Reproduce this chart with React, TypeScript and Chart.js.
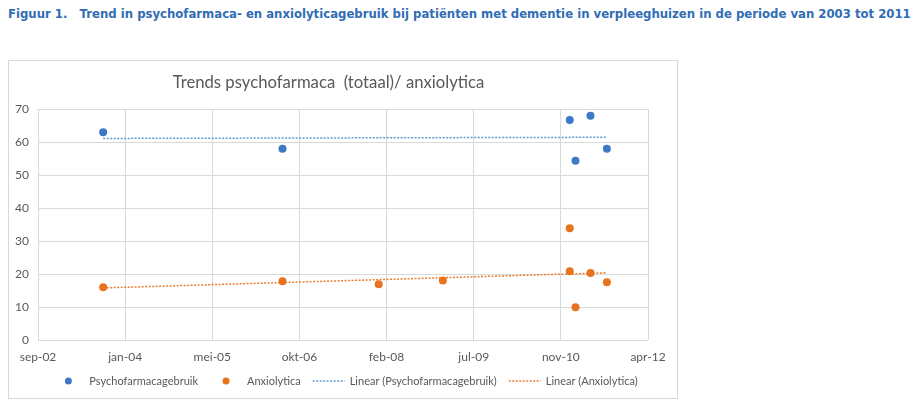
import React, { useEffect, useRef } from "react";
import { Chart, registerables } from "chart.js";

Chart.register(...registerables);

// Excel-style date serials for the x axis ticks (sep-02 ... apr-12, step 500 days)
const xTickValues = [37500, 38000, 38500, 39000, 39500, 40000, 40500, 41000];
const xTickLabels = ["sep-02", "jan-04", "mei-05", "okt-06", "feb-08", "jul-09", "nov-10", "apr-12"];
const yTickValues = [0, 10, 20, 30, 40, 50, 60, 70];

const psychoDates = [37874, 38903, 40551, 40584, 40670, 40764];
const psychoValues = [63, 58, 66.7, 54.3, 68, 58];

const anxioDates = [37874, 38903, 39455, 39823, 40551, 40551, 40584, 40670, 40764];
const anxioValues = [16, 17.8, 16.9, 18, 20.8, 33.9, 9.9, 20.3, 17.5];

const seriesLabels = [
  "Psychofarmacagebruik",
  "Anxiolytica",
  "Linear (Psychofarmacagebruik)",
  "Linear (Anxiolytica)",
];

const BLUE = "#3E79C5";
const ORANGE = "#E8731E";
const BLUE_TREND = "#5B9BD5";
const ORANGE_TREND = "#ED7D31";
const GREY_TEXT = "#595959";
const GRID = "#d9d9d9";
const FONT = 'Lato, "Liberation Sans", sans-serif';

function linearFit(xs: number[], ys: number[]) {
  const n = xs.length;
  const mx = xs.reduce((a, b) => a + b, 0) / n;
  const my = ys.reduce((a, b) => a + b, 0) / n;
  let sxy = 0;
  let sxx = 0;
  for (let i = 0; i < n; i++) {
    sxy += (xs[i] - mx) * (ys[i] - my);
    sxx += (xs[i] - mx) * (xs[i] - mx);
  }
  const b = sxy / sxx;
  const a = my - b * mx;
  const x0 = Math.min(...xs);
  const x1 = Math.max(...xs);
  return [
    { x: x0, y: a + b * x0 },
    { x: x1, y: a + b * x1 },
  ];
}

const legendPlugin = {
  id: "excelLegend",
  afterDraw(chart: any) {
    const ctx = chart.ctx as CanvasRenderingContext2D;
    const items = chart.data.datasets.map((ds: any) => ({
      label: ds.label as string,
      color: ds.showLine ? ds.borderColor : ds.backgroundColor,
      kind: ds.showLine ? "line" : "dot",
    }));
    ctx.save();
    ctx.font = `11px ${FONT}`;
    const sym = 32;
    const tg = 5;
    const ig = 12;
    const widths = items.map((it: any) => sym + tg + ctx.measureText(it.label).width);
    const total = widths.reduce((a: number, b: number) => a + b, 0) + ig * (items.length - 1);
    let x = chart.width / 2 - total / 2 + 2;
    const y = 320;
    items.forEach((it: any, i: number) => {
      if (it.kind === "dot") {
        ctx.beginPath();
        ctx.arc(x + sym / 2, y, 3.5, 0, Math.PI * 2);
        ctx.fillStyle = it.color;
        ctx.fill();
      } else {
        ctx.beginPath();
        ctx.setLineDash([2, 1.5]);
        ctx.lineWidth = 1.5;
        ctx.strokeStyle = it.color;
        ctx.moveTo(x, y);
        ctx.lineTo(x + sym, y);
        ctx.stroke();
        ctx.setLineDash([]);
      }
      ctx.fillStyle = GREY_TEXT;
      ctx.textBaseline = "middle";
      ctx.textAlign = "left";
      ctx.fillText(it.label, x + sym + tg, y + 0.5);
      x += widths[i] + ig;
    });
    ctx.restore();
  },
};

export default function App() {
  const canvasRef = useRef<HTMLCanvasElement | null>(null);

  useEffect(() => {
    if (!canvasRef.current) return;
    const psychoPoints = psychoDates.map((d, i) => ({ x: d, y: psychoValues[i] }));
    const anxioPoints = anxioDates.map((d, i) => ({ x: d, y: anxioValues[i] }));
    const chart = new Chart(canvasRef.current, {
      type: "scatter",
      data: {
        datasets: [
          {
            label: seriesLabels[0],
            data: psychoPoints,
            backgroundColor: BLUE,
            borderColor: BLUE,
            borderWidth: 0,
            pointRadius: 4,
            order: 1,
          },
          {
            label: seriesLabels[1],
            data: anxioPoints,
            backgroundColor: ORANGE,
            borderColor: ORANGE,
            borderWidth: 0,
            pointRadius: 4,
            order: 1,
          },
          {
            label: seriesLabels[2],
            data: linearFit(psychoDates, psychoValues),
            showLine: true,
            borderColor: BLUE_TREND,
            backgroundColor: BLUE_TREND,
            borderWidth: 1.5,
            borderDash: [2, 1.5],
            pointRadius: 0,
            order: 2,
          },
          {
            label: seriesLabels[3],
            data: linearFit(anxioDates, anxioValues),
            showLine: true,
            borderColor: ORANGE_TREND,
            backgroundColor: ORANGE_TREND,
            borderWidth: 1.5,
            borderDash: [2, 1.5],
            pointRadius: 0,
            order: 2,
          },
        ],
      },
      options: {
        animation: false,
        responsive: false,
        devicePixelRatio: 1,
        layout: { padding: { left: 0, right: 29, top: 0, bottom: 34 } },
        plugins: {
          legend: { display: false },
          tooltip: { enabled: false },
          title: {
            display: true,
            text: "Trends psychofarmaca  (totaal)/ anxiolytica",
            color: GREY_TEXT,
            font: { family: FONT, size: 16.7, weight: "normal", lineHeight: 1.2 },
            padding: { top: 11.6, bottom: 16.4 },
          },
        },
        scales: {
          x: {
            type: "linear",
            min: xTickValues[0],
            max: xTickValues[xTickValues.length - 1],
            afterBuildTicks: (scale: any) => {
              scale.ticks = xTickValues.map((v) => ({ value: v }));
            },
            afterFit: (scale: any) => {
              scale.height = 24;
            },
            ticks: {
              autoSkip: false,
              maxRotation: 0,
              padding: 10,
              color: GREY_TEXT,
              font: { family: FONT, size: 12 },
              callback: (v: any) => {
                const idx = xTickValues.indexOf(Number(v));
                return idx >= 0 ? xTickLabels[idx] : "";
              },
            },
            grid: { color: GRID, drawTicks: false },
            border: { display: false },
          },
          y: {
            min: yTickValues[0],
            max: yTickValues[yTickValues.length - 1],
            afterBuildTicks: (scale: any) => {
              scale.ticks = yTickValues.map((v) => ({ value: v }));
            },
            afterFit: (scale: any) => {
              scale.width = 29;
            },
            ticks: {
              padding: 9,
              color: GREY_TEXT,
              font: { family: FONT, size: 12 },
            },
            grid: { color: GRID, drawTicks: false },
            border: { display: false },
          },
        },
      },
      plugins: [legendPlugin],
    });
    return () => chart.destroy();
  }, []);

  return (
    <div style={{ position: "relative", width: 904, height: 393 }}>
      <div
        style={{
          position: "absolute",
          left: 0,
          top: 0,
          fontFamily: '"DejaVu Sans", Verdana, sans-serif',
          fontWeight: "bold",
          fontSize: 11.7,
          lineHeight: "13px",
          color: "#2F6DB5",
          whiteSpace: "pre",
        }}
      >
        {"Figuur 1.   Trend in psychofarmaca- en anxiolyticagebruik bij patiënten met dementie in verpleeghuizen in de periode van 2003 tot 2011"}
      </div>
      <div
        style={{
          position: "absolute",
          left: 0,
          top: 52,
          width: 670,
          height: 339,
          border: "1px solid #d9d9d9",
          boxSizing: "border-box",
          background: "#fff",
        }}
      >
        <canvas ref={canvasRef} width={668} height={337} style={{ display: "block", width: 668, height: 337 }} />
      </div>
    </div>
  );
}
